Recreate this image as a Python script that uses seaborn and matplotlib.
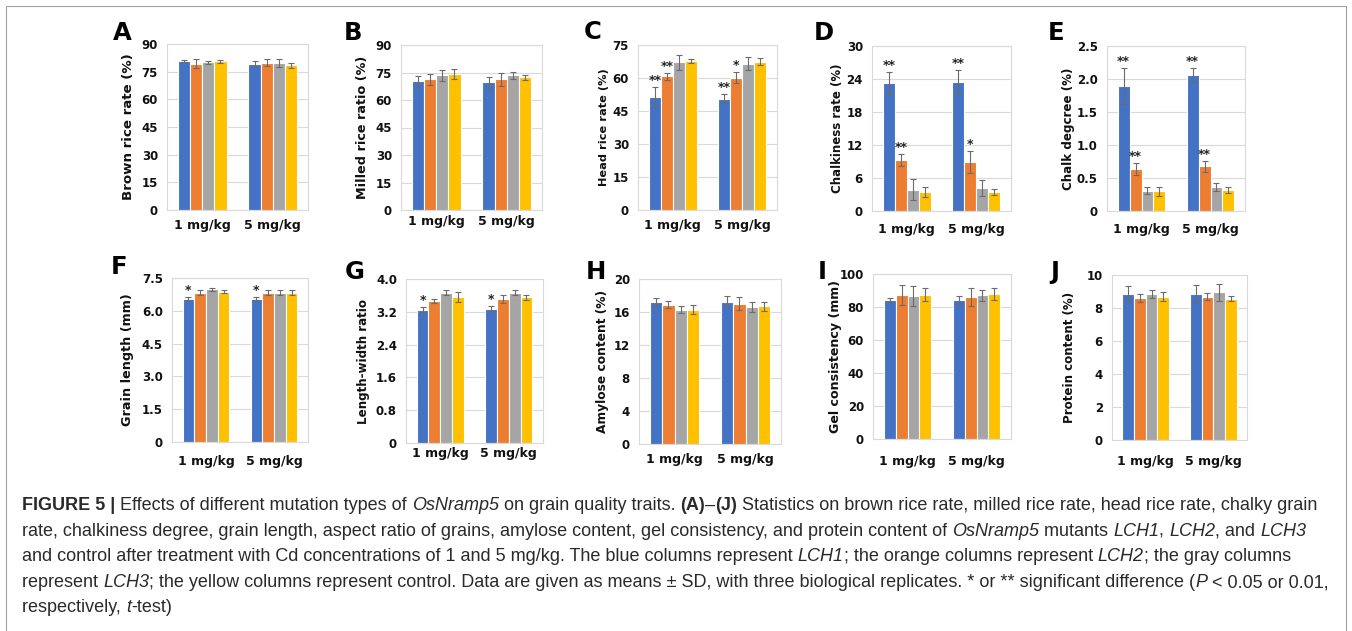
import numpy as np
import pandas as pd
import matplotlib
matplotlib.use("Agg")
import matplotlib.pyplot as plt
from matplotlib.lines import Line2D
from matplotlib.font_manager import FontProperties
import seaborn as sns

# ---------------- data ----------------
doses = ["1 mg/kg", "5 mg/kg"]
lines = ["LCH1", "LCH2", "LCH3", "Control"]
colors = ["#4472C4", "#ED7D31", "#A5A5A5", "#FFC000"]

brown_mean = [[81.0, 79.4, 80.2, 80.6], [79.4, 79.9, 79.7, 78.4]]
brown_sd = [[0.5, 2.5, 0.8, 0.7], [1.5, 2.0, 2.0, 1.2]]
brown_sig = [["", "", "", ""], ["", "", "", ""]]

milled_mean = [[70.1, 71.2, 73.4, 74.1], [69.7, 71.2, 73.4, 72.3]]
milled_sd = [[3.0, 3.0, 3.0, 2.8], [3.0, 3.8, 2.0, 1.5]]
milled_sig = [["", "", "", ""], ["", "", "", ""]]

head_mean = [[51.2, 60.8, 67.1, 67.7], [50.5, 60.2, 66.5, 67.4]]
head_sd = [[4.5, 1.5, 3.5, 1.0], [2.0, 2.5, 3.0, 1.5]]
head_sig = [["**", "**", "", ""], ["**", "*", "", ""]]

chalk_mean = [[23.3, 9.2, 3.9, 3.5], [23.5, 8.9, 4.2, 3.5]]
chalk_sd = [[2.0, 1.1, 1.9, 0.9], [2.2, 2.0, 1.5, 0.5]]
chalk_sig = [["**", "**", "", ""], ["**", "*", "", ""]]

degree_mean = [[1.89, 0.63, 0.31, 0.30], [2.06, 0.675, 0.36, 0.32]]
degree_sd = [[0.27, 0.09, 0.05, 0.07], [0.10, 0.08, 0.06, 0.04]]
degree_sig = [["**", "**", "", ""], ["**", "**", "", ""]]

length_mean = [[6.56, 6.83, 6.98, 6.87], [6.56, 6.83, 6.83, 6.83]]
length_sd = [[0.08, 0.10, 0.06, 0.07], [0.06, 0.10, 0.10, 0.10]]
length_sig = [["*", "", "", ""], ["*", "", "", ""]]

ratio_mean = [[3.25, 3.46, 3.66, 3.56], [3.28, 3.51, 3.66, 3.56]]
ratio_sd = [[0.07, 0.05, 0.06, 0.12], [0.05, 0.09, 0.06, 0.06]]
ratio_sig = [["*", "", "", ""], ["*", "", "", ""]]

amylose_mean = [[17.2, 16.9, 16.3, 16.3], [17.25, 17.0, 16.6, 16.7]]
amylose_sd = [[0.5, 0.45, 0.4, 0.6], [0.7, 0.8, 0.65, 0.55]]
amylose_sig = [["", "", "", ""], ["", "", "", ""]]

gel_mean = [[84.3, 87.1, 86.7, 87.5], [84.1, 86.3, 87.1, 87.9]]
gel_sd = [[1.2, 6.0, 6.0, 4.0], [2.5, 5.5, 3.5, 3.8]]
gel_sig = [["", "", "", ""], ["", "", "", ""]]

protein_mean = [[8.85, 8.59, 8.87, 8.69], [8.87, 8.69, 8.95, 8.57]]
protein_sd = [[0.5, 0.25, 0.25, 0.25], [0.5, 0.2, 0.5, 0.15]]
protein_sig = [["", "", "", ""], ["", "", "", ""]]

letters = ["A", "B", "C", "D", "E", "F", "G", "H", "I", "J"]
ylabels = ["Brown rice rate (%)", "Milled rice ratio (%)", "Head rice rate (%)",
           "Chalkiness rate (%)", "Chalk degcree (%)", "Grain length (mm)",
           "Length-width ratio", "Amylose content (%)", "Gel consistency (mm)",
           "Protein content (%)"]
yticks = [[0, 15, 30, 45, 60, 75, 90], [0, 15, 30, 45, 60, 75, 90],
          [0, 15, 30, 45, 60, 75], [0, 6, 12, 18, 24, 30],
          [0, 0.5, 1.0, 1.5, 2.0, 2.5], [0, 1.5, 3.0, 4.5, 6.0, 7.5],
          [0, 0.8, 1.6, 2.4, 3.2, 4.0], [0, 4, 8, 12, 16, 20],
          [0, 20, 40, 60, 80, 100], [0, 2, 4, 6, 8, 10]]
ytick_labels = [["0", "15", "30", "45", "60", "75", "90"],
                ["0", "15", "30", "45", "60", "75", "90"],
                ["0", "15", "30", "45", "60", "75"],
                ["0", "6", "12", "18", "24", "30"],
                ["0", "0.5", "1.0", "1.5", "2.0", "2.5"],
                ["0", "1.5", "3.0", "4.5", "6.0", "7.5"],
                ["0", "0.8", "1.6", "2.4", "3.2", "4.0"],
                ["0", "4", "8", "12", "16", "20"],
                ["0", "20", "40", "60", "80", "100"],
                ["0", "2", "4", "6", "8", "10"]]
means = [brown_mean, milled_mean, head_mean, chalk_mean, degree_mean,
         length_mean, ratio_mean, amylose_mean, gel_mean, protein_mean]
sds = [brown_sd, milled_sd, head_sd, chalk_sd, degree_sd,
       length_sd, ratio_sd, amylose_sd, gel_sd, protein_sd]
sigs = [brown_sig, milled_sig, head_sig, chalk_sig, degree_sig,
        length_sig, ratio_sig, amylose_sig, gel_sig, protein_sig]

# ---------------- layout (pixels) ----------------
W, H = 1352, 631
axes_px = [(167, 44, 308, 210), (401, 45, 542, 210), (638, 45, 777, 210),
           (872, 46, 1011, 211), (1107, 46, 1245, 211),
           (172, 278, 308, 442), (406, 279, 543, 443), (639, 279, 781, 444),
           (873, 274, 1011, 439), (1112, 275, 1247, 440)]
letter_px = [(122, 33), (353, 33), (593, 32), (824, 33), (1056, 33),
             (119, 267), (355, 272), (596, 272), (822, 272), (1055, 272)]
ylabel_cx = [127, 362, 603, 837, 1068, 127, 363, 602, 835, 1069]
ylabel_fs = [9.65, 9.2, 8.2, 8.5, 8.6, 9.2, 8.6, 8.8, 9.1, 8.6]
xlab_off = [15, 12, 15, 19, 19, 20, 10, 16, 22, 22]

sns.set_theme(style="whitegrid")
plt.rcParams["font.family"] = ["DejaVu Sans"]

fig = plt.figure(figsize=(W / 100, H / 100), dpi=100)
fig.patch.set_facecolor("white")

grid_c = "#D9D9D9"
txt_c = "#111111"
for k in range(10):
    L, T, R, B = axes_px[k]
    ax = fig.add_axes([L / W, 1 - B / H, (R - L) / W, (B - T) / H])
    df = pd.DataFrame({
        "dose": np.repeat(doses, len(lines)),
        "line": lines * len(doses),
        "value": np.ravel(means[k]),
    })
    sns.barplot(data=df, x="dose", y="value", hue="line", order=doses,
                hue_order=lines, palette=colors, saturation=1, width=0.69,
                edgecolor="white", linewidth=0.8, errorbar=None,
                legend=False, ax=ax)
    bar_conts = list(ax.containers)
    for i, cont in enumerate(bar_conts):
        for j, bar in enumerate(cont):
            xc = bar.get_x() + bar.get_width() / 2
            h = bar.get_height()
            sd = sds[k][j][i]
            ax.errorbar(xc, h, yerr=sd, fmt="none", ecolor="#6b6b6b",
                        elinewidth=0.8, capsize=2, capthick=0.8, zorder=4)
            s = sigs[k][j][i]
            if s:
                ax.annotate(s, (xc, h + sd), xytext=(0, 0),
                            textcoords="offset points", ha="center",
                            va="bottom", fontsize=9, fontweight="bold",
                            color="#222222")
    ax.set_xlim(-0.5, 1.5)
    ax.set_ylim(yticks[k][0], yticks[k][-1])
    ax.set_yticks(yticks[k])
    ax.set_yticklabels(ytick_labels[k], fontsize=8.5, fontweight="bold",
                       color=txt_c)
    ax.set_xticks(range(len(doses)))
    ax.set_xticklabels(doses, fontsize=9, fontweight="bold", color=txt_c)
    ax.set_xlabel("")
    ax.tick_params(axis="both", length=0)
    ax.tick_params(axis="y", pad=6.5)
    ax.tick_params(axis="x", pad=(xlab_off[k] - 6.5) * 0.72)
    ax.grid(axis="y", color=grid_c, linewidth=0.8)
    ax.grid(axis="x", visible=False)
    ax.set_axisbelow(True)
    for sp in ax.spines.values():
        sp.set_visible(True)
        sp.set_color(grid_c)
        sp.set_linewidth(0.8)
    ax.set_facecolor("white")
    ax.set_ylabel(ylabels[k], fontsize=ylabel_fs[k], fontweight="bold",
                  color=txt_c)
    xr = ylabel_cx[k] + 0.78 * ylabel_fs[k]
    ax.yaxis.set_label_coords((xr - L) / (R - L), 0.5)
    lx, ly = letter_px[k]
    fig.text(lx / W, 1 - ly / H, letters[k], ha="center", va="center",
             fontsize=17.5, fontweight="bold", color="black")

# ---------------- caption ----------------
cap_family = ["Liberation Sans", "DejaVu Sans"]
N, B_, I_ = "normal", "bold", "italic"
cap_lines = [
    [("FIGURE 5 | ", B_), ("Effects of different mutation types of ", N),
     ("OsNramp5", I_), (" on grain quality traits. ", N), ("(A)", B_),
     ("\u2013", N), ("(J)", B_),
     (" Statistics on brown rice rate, milled rice rate, head rice rate, chalky grain", N)],
    [("rate, chalkiness degree, grain length, aspect ratio of grains, amylose content, "
      "gel consistency, and protein content of ", N), ("OsNramp5", I_),
     (" mutants ", N), ("LCH1", I_), (", ", N), ("LCH2", I_), (", and ", N),
     ("LCH3", I_)],
    [("and control after treatment with Cd concentrations of 1 and 5 mg/kg. "
      "The blue columns represent ", N), ("LCH1", I_),
     ("; the orange columns represent ", N), ("LCH2", I_),
     ("; the gray columns", N)],
    [("represent ", N), ("LCH3", I_),
     ("; the yellow columns represent control. Data are given as means \u00b1 SD, "
      "with three biological replicates. * or ** significant difference (", N),
     ("P", I_), (" < 0.05 or 0.01,", N)],
    [("respectively, ", N), ("t", I_), ("-test)", N)],
]
cap_y = [510, 536, 561, 587, 612]
cap_x0 = 22
target_w = 1300

renderer = fig.canvas.get_renderer()


def fp(style, size):
    return FontProperties(family=cap_family, size=size,
                          weight="bold" if style == B_ else "normal",
                          style="italic" if style == I_ else "normal")


def adv(txt, style, size):
    p = fp(style, size)
    w1, _, _ = renderer.get_text_width_height_descent("x" + txt + "x", p, ismath=False)
    w0, _, _ = renderer.get_text_width_height_descent("xx", p, ismath=False)
    return w1 - w0


base = 10.0
w_line1 = sum(adv(t, s, base) for t, s in cap_lines[0])
cap_size = base * target_w / w_line1

for runs, yy in zip(cap_lines, cap_y):
    x = cap_x0
    for t, s in runs:
        fig.text(x / W, 1 - yy / H, t, fontproperties=fp(s, cap_size),
                 ha="left", va="baseline", color="#2a2a2a")
        x += adv(t, s, cap_size)

# outer frame: left, top, right edges (open at the bottom)
bx0, by0, bx1 = 6, 6, 1346
frame_xy = [(bx0, H + 2), (bx0, by0), (bx1, by0), (bx1, H + 2)]
fig.add_artist(Line2D([p[0] / W for p in frame_xy],
                      [1 - p[1] / H for p in frame_xy],
                      transform=fig.transFigure, color="#a0a0a0",
                      linewidth=0.8))

fig.savefig("out.png", dpi=100, facecolor="white")
